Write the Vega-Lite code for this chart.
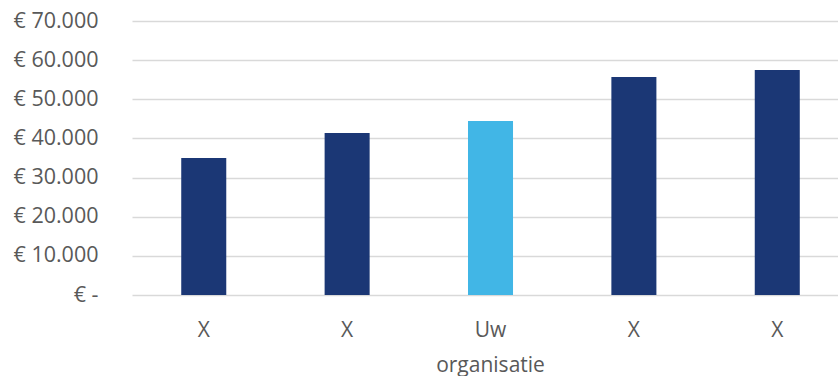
{
  "$schema": "https://vega.github.io/schema/vega-lite/v6.json",
  "width": 706,
  "height": 274,
  "autosize": {"type": "none"},
  "padding": {"left": 132, "top": 21, "right": 0, "bottom": 81},
  "background": "white",
  "config": {
    "view": {"stroke": null},
    "font": "Open Sans"
  },
  "data": {
    "values": [
      {"id": "X1", "name": "X", "value": 35000, "group": "other"},
      {"id": "X2", "name": "X", "value": 41400, "group": "other"},
      {"id": "Uw organisatie", "name": "Uw organisatie", "value": 44450, "group": "own"},
      {"id": "X3", "name": "X", "value": 55700, "group": "other"},
      {"id": "X4", "name": "X", "value": 57500, "group": "other"}
    ]
  },
  "mark": {"type": "bar"},
  "encoding": {
    "x": {
      "field": "id",
      "type": "nominal",
      "sort": null,
      "scale": {"paddingInner": 0.686, "paddingOuter": 0.305, "align": 0.563},
      "axis": {
        "title": null,
        "labelAngle": 0,
        "domain": false,
        "ticks": false,
        "labelFont": "Open Sans",
        "labelFontSize": 21,
        "labelColor": "#595959",
        "labelPadding": 24,
        "labelLineHeight": 35,
        "labelExpr": "datum.value == 'Uw organisatie' ? ['Uw', 'organisatie'] : 'X'"
      }
    },
    "y": {
      "field": "value",
      "type": "quantitative",
      "scale": {"domain": [0, 70000], "nice": false},
      "axis": {
        "title": null,
        "values": [0, 10000, 20000, 30000, 40000, 50000, 60000, 70000],
        "domain": false,
        "ticks": false,
        "labelFont": "Open Sans",
        "labelFontSize": 21.5,
        "labelColor": "#595959",
        "labelPadding": 34,
        "gridColor": "#D9D9D9",
        "gridWidth": 1.5,
        "labelExpr": "datum.value == 0 ? '€ -\u00a0\u00a0\u00a0' : '€ ' + replace(format(datum.value, ','), ',', '.')"
      }
    },
    "color": {
      "field": "group",
      "type": "nominal",
      "scale": {"domain": ["other", "own"], "range": ["#1B3775", "#41B6E6"]},
      "legend": null
    }
  }
}
